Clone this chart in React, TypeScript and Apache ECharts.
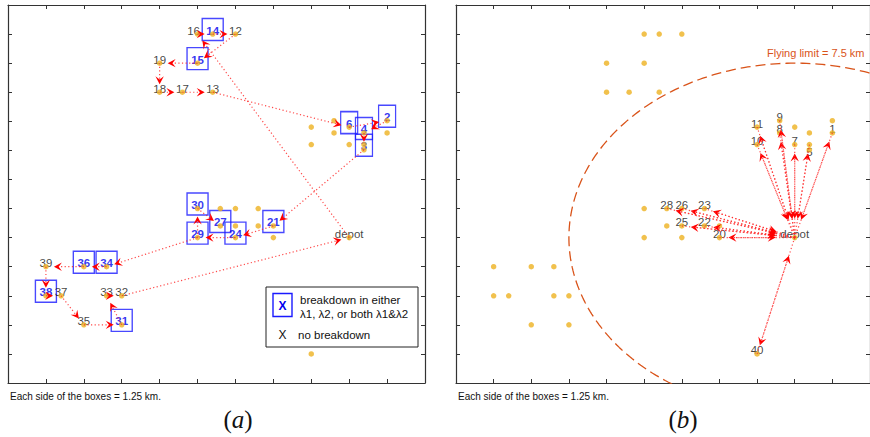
import React, { useEffect, useRef } from 'react';
import * as echarts from 'echarts';

// ---- data (grid units; each side of a box = 1.25 km) ----
const POINT_IDS = ['1','2','3','4','5','6','7','8','9','10','11','12','13','14','15','16','17','18','19','20',
  '21','22','23','24','25','26','27','28','29','30','31','32','33','34','35','36','37','38','39','40','depot'];
const POINT_X = [10, 10, 9.39, 9.39, 9.39, 9, 9, 8.6, 8.6, 8, 8, 6, 5.4, 5.4, 5, 5, 4.6, 4, 4, 7,
  7, 6.6, 6.6, 6, 6, 6, 5.6, 5.6, 5, 5, 3, 3, 2.6, 2.6, 2, 2, 1.4, 1, 1, 8, 9];
const POINT_Y = [8.6, 9.02, 8.02, 8.6, 8.2, 8.8, 8.2, 8.6, 9.02, 8.2, 8.8, 12, 10, 12, 11, 12, 10, 10, 11, 5,
  5.4, 5.4, 6, 5, 5.4, 6, 5.4, 6, 5, 6, 2, 3, 3, 4, 2, 4, 3, 3, 4, 1, 5];

// panel (a): customers with a breakdown (boxed) and without
const BREAKDOWN_A = ['14','15','6','2','4','3','21','30','27','29','24','36','34','38','31'];
const PLAIN_A = ['16','12','19','18','17','13','39','37','33','32','35','depot'];
// panel (a): arrows (from, to)
const ARROWS_A: [string, string][] = [
  ['depot','16'],['16','14'],['14','12'],['12','15'],['15','19'],['19','18'],['18','17'],['17','13'],
  ['13','6'],['6','2'],['2','4'],['4','3'],['3','21'],['21','24'],['24','29'],['29','30'],['30','27'],
  ['29','34'],['34','36'],['36','39'],['39','38'],['38','37'],['37','35'],['35','31'],['31','33'],
  ['33','32'],['32','depot']
];
// panel (b): drone out-and-back trips from the depot
const TRIPS_B = ['1','5','7','8','9','10','11','20','22','23','25','26','28','40'];
const LABELS_B = [...TRIPS_B, 'depot'];
const FLYING_LIMIT_KM = 7.5;
const BOX_SIDE_KM = 1.25;

const FONT = '"Liberation Sans", Arial, Helvetica, sans-serif';

const idx = (id: string) => POINT_IDS.indexOf(id);
const pt = (id: string) => [POINT_X[idx(id)], POINT_Y[idx(id)]];

const LABEL_NUDGE: Record<string, number[]> = { '5': [0, 7], '16': [-4, -3.5] };

function renderArrow(_params: any, api: any) {
  const a = api.coord([api.value(0), api.value(1)]);
  const b = api.coord([api.value(2), api.value(3)]);
  const gap = api.value(4);
  const dx = b[0] - a[0], dy = b[1] - a[1];
  const len = Math.hypot(dx, dy) || 1;
  const ux = dx / len, uy = dy / len;
  const px = -uy, py = ux;
  const tip = [b[0] - ux * gap, b[1] - uy * gap];
  const L = 8, W = 4.2;
  const back = [tip[0] - ux * L, tip[1] - uy * L];
  const notch = [tip[0] - ux * L * 0.6, tip[1] - uy * L * 0.6];
  return {
    type: 'group',
    children: [
      { type: 'line', shape: { x1: a[0], y1: a[1], x2: notch[0], y2: notch[1] },
        style: { stroke: '#ff2a2a', lineWidth: 1.2, lineDash: [1.2, 2.4], opacity: 0.85 } },
      { type: 'polygon', shape: { points: [tip, [back[0] + px * W, back[1] + py * W], notch, [back[0] - px * W, back[1] - py * W]] },
        style: { fill: '#ff0000' } },
    ],
  };
}

function buildOption() {
  const axisLine = { show: true, onZero: false, lineStyle: { color: '#333', width: 1.2 } };
  const axisTick = { show: true, inside: true, length: 4, lineStyle: { color: '#333', width: 1 } };
  const mk = (max: number, gridIndex: number, position: string) => ({
    type: 'value', min: 0, max, interval: 1, gridIndex, position,
    axisLine, axisTick, axisLabel: { show: false }, splitLine: { show: false },
  });
  const xAxis = [mk(11, 0, 'bottom'), mk(11, 0, 'top'), mk(11, 1, 'bottom'), mk(11, 1, 'top')];
  const yAxis = [mk(13, 0, 'left'), mk(13, 0, 'right'), mk(13, 1, 'left'), mk(13, 1, 'right')];

  const allDots = POINT_IDS.map((id) => ({ name: id, value: pt(id) }));
  const dotSeries = (ax: number) => ({
    type: 'scatter', xAxisIndex: ax, yAxisIndex: ax, silent: true, z: 4,
    symbol: 'circle', symbolSize: 5.5, itemStyle: { color: '#EDB120' }, data: allDots,
  });
  const labelSeries = (ax: number, ids: string[], color: string, weight: string, z: number) => ({
    type: 'scatter', xAxisIndex: ax, yAxisIndex: ax, silent: true, z,
    symbol: 'circle', symbolSize: 1, itemStyle: { color: 'rgba(0,0,0,0)' },
    label: { show: true, position: 'inside', formatter: '{b}', color, fontWeight: weight, fontSize: 11.5, fontFamily: FONT },
    data: ids.map((id) => ({
      name: id, value: pt(id),
      label: { offset: LABEL_NUDGE[id] || [0, -3.5] },
    })),
  });
  const boxSeries = {
    type: 'scatter', xAxisIndex: 0, yAxisIndex: 0, silent: true, z: 2,
    symbol: 'rect', symbolOffset: [0, -4.5],
    itemStyle: { color: 'rgba(0,0,0,0)', borderColor: '#1a1aff', borderWidth: 1.4 },
    data: BREAKDOWN_A.map((id) => ({ name: id, value: pt(id), symbolSize: [id.length > 1 ? 21 : 17, 22] })),
  };
  const arrowSeries = (ax: number, rows: number[][]) => ({
    type: 'custom', xAxisIndex: ax, yAxisIndex: ax, silent: true, z: 5,
    renderItem: renderArrow, encode: { x: [0, 2], y: [1, 3] }, data: rows,
  });
  const arrowsA = ARROWS_A.map(([f, t]) => [...pt(f), ...pt(t), 8]);
  const arrowsB: number[][] = [];
  TRIPS_B.forEach((id) => {
    arrowsB.push([...pt('depot'), ...pt(id), 9]);
    arrowsB.push([...pt(id), ...pt('depot'), 19]);
  });

  const R = FLYING_LIMIT_KM / BOX_SIDE_KM;
  const [cx, cy] = pt('depot');
  const circle: number[][] = [];
  for (let i = 0; i <= 360; i++) {
    const t = (i * Math.PI) / 180;
    circle.push([cx + R * Math.cos(t), cy + R * Math.sin(t)]);
  }

  const txt = (text: string, x: number, y: number, extra: any = {}) => ({
    type: 'text', silent: true, z: 50,
    style: { text, x, y, fill: '#111', fontSize: 11.5, fontFamily: FONT,
      textAlign: 'left', textVerticalAlign: 'middle', align: 'left', verticalAlign: 'middle', ...extra },
  });
  const caption = (letter: string, x: number) => ({
    type: 'text', silent: true, z: 50,
    style: {
      text: `{p|(}{i|${letter}}{p|)}`, x, y: 419, textAlign: 'center', textVerticalAlign: 'middle',
      align: 'center', verticalAlign: 'middle',
      rich: {
        p: { fontSize: 25, fontFamily: '"Liberation Serif", serif', fill: '#111', color: '#111' },
        i: { fontSize: 25, fontFamily: '"Liberation Serif", serif', fontStyle: 'italic', fill: '#111', color: '#111' },
      },
    },
  });

  return {
    animation: false,
    backgroundColor: '#fff',
    grid: [
      { left: 8, top: 5, width: 417, height: 378, containLabel: false },
      { left: 456, top: 5, width: 417, height: 378, containLabel: false },
    ],
    xAxis, yAxis,
    series: [
      {
        type: 'line', xAxisIndex: 2, yAxisIndex: 2, silent: true, z: 1, clip: true,
        symbol: 'none', showSymbol: false, data: circle,
        lineStyle: { color: '#D95319', width: 1.3, type: [10, 5] },
      },
      boxSeries,
      labelSeries(0, BREAKDOWN_A, '#0000ee', 'bold', 3),
      labelSeries(0, PLAIN_A, '#111', 'normal', 3),
      dotSeries(0),
      arrowSeries(0, arrowsA),
      labelSeries(2, LABELS_B, '#111', 'normal', 3),
      dotSeries(2),
      arrowSeries(2, arrowsB),
    ],
    graphic: [
      { type: 'rect', silent: true, z: 40, shape: { x: 266, y: 287, width: 152, height: 60 },
        style: { fill: '#fff', stroke: '#222', lineWidth: 1 } },
      { type: 'rect', silent: true, z: 41, shape: { x: 273, y: 293.5, width: 19, height: 23 },
        style: { fill: 'none', stroke: '#1a1aff', lineWidth: 1.4 } },
      txt('X', 282.5, 306, { fill: '#0000ee', fontWeight: 'bold', textAlign: 'center', align: 'center', fontSize: 12 }),
      txt('breakdown in either', 300, 299.5),
      txt('λ1, λ2, or both λ1&λ2', 300, 314),
      txt('X', 282.5, 335, { textAlign: 'center', align: 'center', fontSize: 12 }),
      txt('no breakdown', 298, 335),
      txt('Flying limit = 7.5 km', 767, 53, { fill: '#D95319', fontSize: 11 }),
      txt('Each side of the boxes = 1.25 km.', 10, 396, { fontSize: 10 }),
      txt('Each side of the boxes = 1.25 km.', 458, 396, { fontSize: 10 }),
      caption('a', 238),
      caption('b', 683),
    ],
  };
}

export default function App() {
  const ref = useRef<HTMLDivElement>(null);
  useEffect(() => {
    if (!ref.current) return;
    const chart = echarts.init(ref.current, null, { renderer: 'svg' });
    chart.setOption(buildOption() as any);
    return () => chart.dispose();
  }, []);
  return (
    <div
      ref={ref}
      style={{ position: 'fixed', left: 0, top: 0, width: 870, height: 437, background: '#fff' }}
    />
  );
}
